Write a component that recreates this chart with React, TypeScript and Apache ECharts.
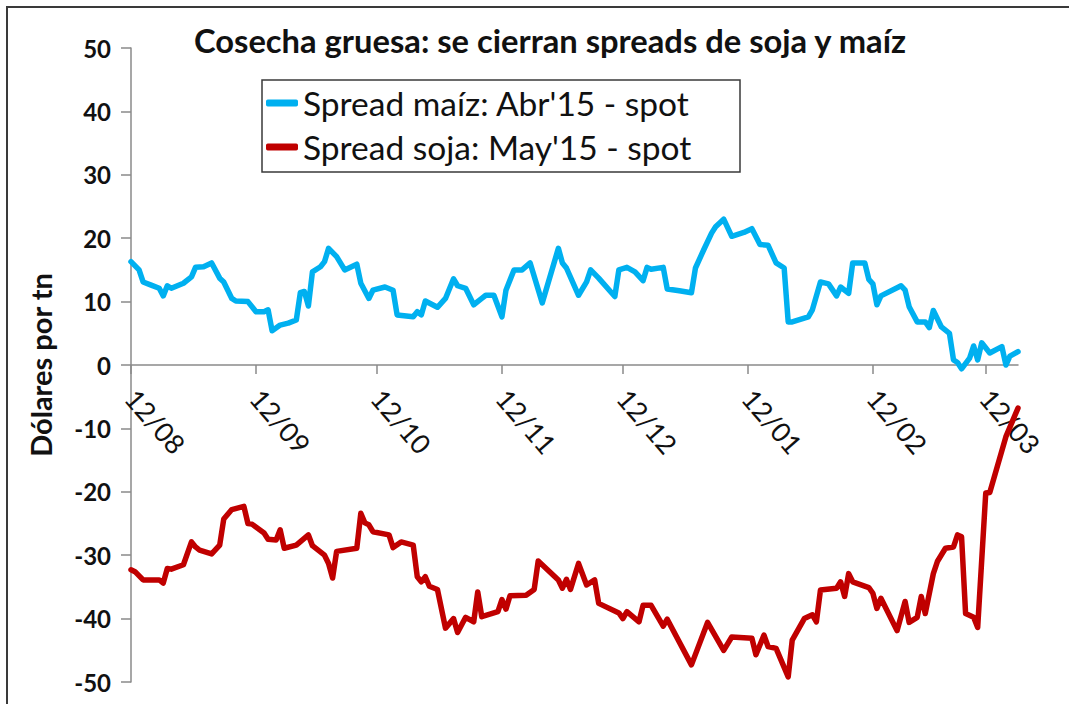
import React, { useEffect, useRef } from "react";
import * as echarts from "echarts";

// Calendar span of the x axis (daily categories)
const START_DATE = "2014-08-12";
const END_DATE = "2015-03-20";

// Spread maíz: Abr'15 - spot  (x = days since 12/08/2014, y = US$/tn)
const cornDays = [0, 2, 3, 5, 7, 8, 9, 10, 13, 15, 16, 18, 20, 22, 23, 25, 26, 29, 31, 33, 34, 35, 37, 39, 41, 42, 43, 44, 45, 47, 48, 49, 51, 53, 56, 57, 59, 60, 63, 65, 66, 70, 71, 72, 73, 76, 78, 80, 81, 83, 85, 87, 88, 90, 92, 93, 95, 97, 99, 102, 106, 107, 108, 111, 113, 114, 116, 120, 121, 123, 125, 127, 128, 129, 132, 133, 136, 139, 140, 142, 144, 145, 147, 149, 152, 154, 156, 158, 160, 162, 163, 164, 168, 169, 171, 173, 175, 176, 178, 179, 182, 183, 184, 185, 186, 191, 192, 193, 195, 197, 198, 199, 201, 203, 204, 205, 206, 208, 209, 210, 211, 213, 216, 217, 218, 220];
const cornValues = [16.3, 15.0, 13.1, 12.6, 12.1, 10.9, 12.5, 12.1, 12.9, 13.9, 15.4, 15.5, 16.1, 13.7, 13.1, 10.5, 10.1, 10.0, 8.4, 8.4, 8.7, 5.4, 6.3, 6.6, 7.1, 11.4, 11.6, 9.3, 14.7, 15.5, 16.3, 18.4, 17.1, 15.0, 15.9, 12.9, 10.5, 11.8, 12.3, 11.8, 7.9, 7.6, 8.4, 7.9, 10.1, 9.1, 10.5, 13.6, 12.5, 12.1, 9.5, 10.5, 11.0, 11.0, 7.6, 11.8, 15.0, 15.0, 16.1, 9.8, 18.4, 16.1, 15.3, 11.0, 13.1, 15.0, 13.7, 10.8, 15.0, 15.4, 14.7, 13.3, 15.4, 15.1, 15.4, 12.0, 11.7, 11.4, 15.3, 18.1, 20.8, 21.8, 23.0, 20.3, 20.9, 21.5, 19.0, 18.9, 16.1, 15.3, 6.8, 6.8, 7.6, 8.7, 13.1, 12.8, 10.9, 12.3, 11.3, 16.1, 16.1, 13.5, 12.8, 9.5, 10.9, 12.5, 11.8, 9.2, 6.8, 6.8, 5.9, 8.6, 6.0, 5.0, 0.8, 0.4, -0.6, 1.1, 3.0, 0.8, 3.5, 1.9, 2.9, 0.0, 1.4, 2.1];

// Spread soja: May'15 - spot  (x = days since 12/08/2014, y = US$/tn)
const soyDays = [0, 1, 3, 7, 8, 9, 10, 13, 15, 16, 17, 20, 22, 23, 25, 28, 29, 30, 33, 34, 36, 37, 38, 41, 44, 45, 48, 49, 50, 51, 56, 57, 58, 59, 60, 64, 65, 67, 70, 71, 72, 73, 74, 76, 78, 80, 81, 83, 85, 86, 87, 91, 92, 93, 94, 98, 100, 101, 106, 107, 108, 109, 111, 113, 115, 116, 121, 122, 123, 126, 127, 129, 132, 133, 139, 143, 147, 149, 154, 155, 157, 158, 160, 163, 164, 167, 169, 170, 171, 175, 176, 177, 178, 179, 183, 184, 185, 186, 190, 192, 193, 195, 196, 197, 199, 200, 202, 204, 205, 206, 207, 209, 210, 212, 213, 217, 220];
const soyValues = [-32.3, -32.6, -33.9, -33.9, -34.4, -32.1, -32.2, -31.5, -27.9, -28.7, -29.2, -29.8, -28.4, -24.3, -22.8, -22.3, -25.0, -25.1, -26.5, -27.5, -27.6, -26.0, -28.9, -28.4, -26.8, -28.5, -30.0, -31.3, -33.6, -29.4, -28.9, -23.4, -24.9, -25.2, -26.3, -26.8, -28.8, -27.9, -28.4, -33.4, -34.2, -33.4, -34.9, -35.4, -41.5, -40.0, -42.2, -39.8, -40.5, -35.8, -39.7, -38.9, -37.0, -38.5, -36.4, -36.3, -35.4, -30.9, -33.9, -35.2, -33.8, -35.4, -31.3, -34.7, -33.9, -37.6, -39.1, -40.0, -38.9, -40.5, -37.9, -37.9, -41.2, -40.1, -47.3, -40.6, -45.0, -42.9, -43.1, -45.7, -42.6, -44.4, -44.7, -49.2, -43.4, -40.0, -39.4, -40.5, -35.5, -35.2, -34.2, -36.5, -32.9, -34.2, -35.1, -36.0, -38.4, -36.8, -41.9, -37.3, -40.6, -39.8, -36.5, -39.2, -32.9, -31.0, -28.9, -28.7, -26.8, -27.1, -39.2, -39.8, -41.4, -20.2, -20.1, -11.3, -6.8];

const SERIES_NAMES = ["Spread maíz: Abr'15 - spot", "Spread soja: May'15 - spot"];
const TITLE = "Cosecha gruesa: se cierran spreads de soja y maíz";
const Y_NAME = "Dólares por tn";

function buildCategories(start: string, end: string): string[] {
  const out: string[] = [];
  const d = new Date(start + "T00:00:00Z");
  const e = new Date(end + "T00:00:00Z");
  while (d.getTime() <= e.getTime()) {
    out.push(d.toISOString().slice(0, 10));
    d.setUTCDate(d.getUTCDate() + 1);
  }
  return out;
}

const FONT = "Lato, 'Open Sans', sans-serif";
const GRID_TOP = 48;
const GRID_BOTTOM = 22;
const CHART_H = 704;

export default function App() {
  const ref = useRef<HTMLDivElement>(null);
  useEffect(() => {
    if (!ref.current) return;
    const chart = echarts.init(ref.current, undefined, { renderer: "svg" });
    const categories = buildCategories(START_DATE, END_DATE);
    const isMonthTick = (_i: number, v: string) => v.slice(8, 10) === "12";
    const axisGray = "#8a8a8a";
    // move the date axis (line, ticks, labels) up to the y = 0 line
    const plotH = CHART_H - GRID_TOP - GRID_BOTTOM;
    const zeroShift = -plotH / 2;
    chart.setOption({
      animation: false,
      backgroundColor: "#ffffff",
      textStyle: { fontFamily: FONT },
      title: {
        text: TITLE,
        left: 545,
        textAlign: "center",
        top: 19,
        textStyle: { fontFamily: FONT, fontSize: 32.7, fontWeight: "bold", color: "#111" },
      },
      legend: {
        left: 261,
        top: 80,
        orient: "vertical",
        itemGap: 8,
        itemWidth: 32,
        itemHeight: 7,
        icon: "roundRect",
        data: SERIES_NAMES,
        textStyle: { fontFamily: FONT, fontSize: 33.5, lineHeight: 36, color: "#111" },
      },
      graphic: [
        {
          type: "polyline",
          shape: { points: [[7, 710], [7, 7], [1080, 7]] },
          style: { stroke: "#3a3a3a", lineWidth: 2, fill: "none" },
          silent: true,
        },
        {
          type: "rect",
          shape: { x: 262, y: 80, width: 478, height: 92 },
          style: { stroke: "#3a3a3a", lineWidth: 1.5, fill: "none" },
          silent: true,
        },
      ],
      grid: {
        left: 131,
        top: GRID_TOP,
        right: 51,
        bottom: GRID_BOTTOM,
        containLabel: false,
        outerBoundsMode: "none",
      },
      xAxis: {
        type: "category",
        data: categories,
        boundaryGap: false,
        position: "bottom",
        offset: zeroShift,
        axisLine: { onZero: false, lineStyle: { color: axisGray, width: 1.5 } },
        axisTick: { show: true, interval: isMonthTick, length: 9, lineStyle: { color: axisGray, width: 1.5 } },
        axisLabel: {
          interval: isMonthTick,
          rotate: -49,
          margin: 28,
          fontFamily: FONT,
          fontSize: 27,
          color: "#111",
          formatter: (v: string) => `${v.slice(8, 10)}/${v.slice(5, 7)}`,
        },
        splitLine: { show: false },
      },
      yAxis: {
        type: "value",
        min: -50,
        max: 50,
        interval: 10,
        name: Y_NAME,
        nameLocation: "middle",
        nameGap: 76,
        nameRotate: 90,
        nameTextStyle: { fontFamily: FONT, fontSize: 29, fontWeight: "bold", color: "#111" },
        axisLine: { show: true, lineStyle: { color: axisGray, width: 1.5 } },
        axisTick: { show: true, length: 10, lineStyle: { color: axisGray, width: 1.5 } },
        axisLabel: { margin: 20, fontFamily: FONT, fontSize: 24, fontWeight: "bold", color: "#111" },
        splitLine: { show: false },
      },
      series: [
        {
          name: SERIES_NAMES[0],
          type: "line",
          data: cornDays.map((d, i) => [d, cornValues[i]]),
          symbol: "none",
          color: "#00B0F0",
          lineStyle: { width: 5.5, color: "#00B0F0", join: "round", cap: "round" },
          z: 3,
        },
        {
          name: SERIES_NAMES[1],
          type: "line",
          data: soyDays.map((d, i) => [d, soyValues[i]]),
          symbol: "none",
          color: "#C00000",
          lineStyle: { width: 5.5, color: "#C00000", join: "round", cap: "round" },
          z: 4,
        },
      ],
    });
    return () => chart.dispose();
  }, []);
  return (
    <div
      ref={ref}
      style={{ position: "fixed", left: 0, top: 0, width: 1069, height: CHART_H, background: "#fff" }}
    />
  );
}
